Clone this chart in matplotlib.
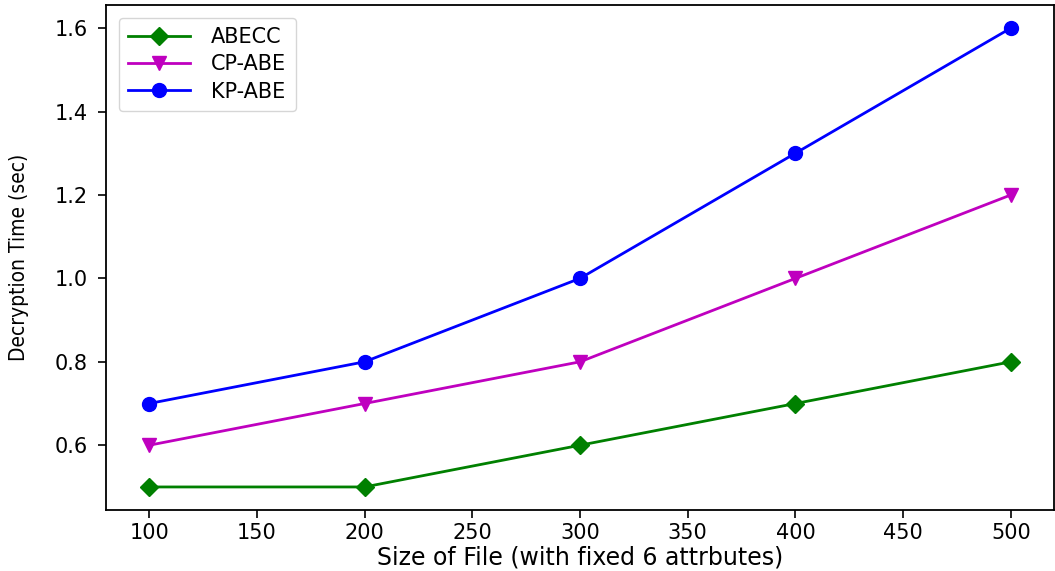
import matplotlib
matplotlib.use("Agg")
import matplotlib.pyplot as plt

file_sizes = [100, 200, 300, 400, 500]
abecc = [0.5, 0.5, 0.6, 0.7, 0.8]
cp_abe = [0.6, 0.7, 0.8, 1.0, 1.2]
kp_abe = [0.7, 0.8, 1.0, 1.3, 1.6]

fig = plt.figure(figsize=(10.55, 5.71), dpi=100)
ax = fig.add_axes([0.1005, 0.107, 0.8985, 0.884])

ax.plot(file_sizes, abecc, color='green', marker='D', lw=2, ms=9, label='ABECC')
ax.plot(file_sizes, cp_abe, color='m', marker='v', lw=2, ms=10, label='CP-ABE')
ax.plot(file_sizes, kp_abe, color='blue', marker='o', lw=2, ms=10, label='KP-ABE')

ax.set_xticks([100, 150, 200, 250, 300, 350, 400, 450, 500])
ax.set_yticks([0.6, 0.8, 1.0, 1.2, 1.4, 1.6])
ax.tick_params(axis='y', labelsize=15, length=6, width=1.2, pad=7)
ax.tick_params(axis='x', labelsize=15, length=6, width=1.2)
for s in ax.spines.values():
    s.set_linewidth(1.3)

ax.set_xlabel('Size of File (with fixed 6 attrbutes)', fontsize=17, labelpad=2)
ax.set_ylabel('Decryption Time (sec)', fontsize=15, fontstretch='condensed')
ax.yaxis.set_label_coords(-0.081, 0.5)

ax.legend(loc='upper left', fontsize=15, handlelength=3.0, handletextpad=1.0,
          borderpad=0.45, labelspacing=0.35, borderaxespad=0.6)

fig.savefig('out.png', dpi=100)
